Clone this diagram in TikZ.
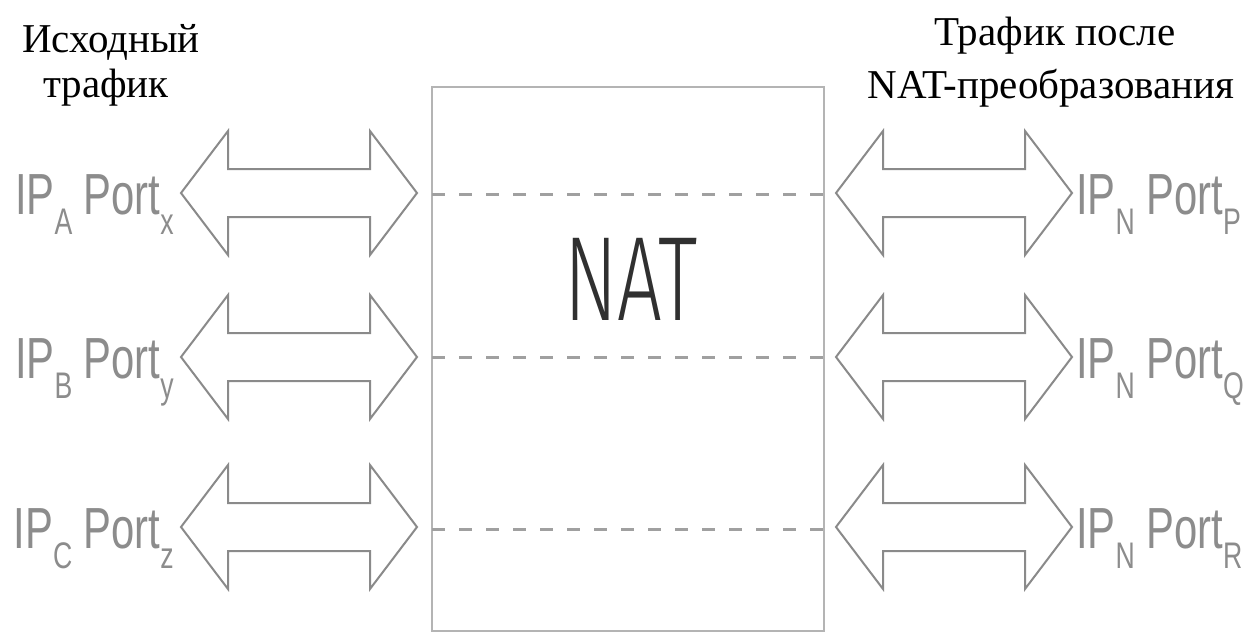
\documentclass[tikz,border=0pt]{standalone}
\usepackage{fontspec}
\usepackage{graphicx}
\setmainfont{Liberation Serif}
\newfontfamily\lblfont{Liberation Sans}
\newfontfamily\natfont{Fira Sans Light}

\definecolor{lblgray}{HTML}{8C8C8C}
\definecolor{arrowgray}{HTML}{8A8A8A}
\definecolor{boxgray}{HTML}{B4B4B4}
\definecolor{dashgray}{HTML}{A0A0A0}
\definecolor{natdark}{HTML}{303030}

% subscript of the address labels
\newcommand\lsub[1]{\raisebox{-20pt}{\fontsize{37}{37}\selectfont #1}}
% address label text, narrowed sans
\newcommand\addr[2]{\scalebox{0.72}[1]{\fontsize{58}{58}\selectfont IP\lsub{#1} Port\lsub{#2}}}
% hollow two-headed arrow: left tip x, centre y
\newcommand\twoway[2]{%
  \draw[arrowline] (#1,#2) -- ++(47,-62) -- ++(0,38) -- ++(142,0) -- ++(0,-38)
    -- ++(47,62) -- ++(-47,62) -- ++(0,-38) -- ++(-142,0) -- ++(0,38) -- cycle;}

\tikzset{
  heading/.style={inner sep=0pt, anchor=base, text=black, font=\fontsize{41}{45}\selectfont},
  addrlbl/.style={inner sep=0pt, anchor=base, text=lblgray, font=\lblfont},
  arrowline/.style={draw=arrowgray, line width=2pt, line join=miter},
  natbox/.style={draw=boxgray, line width=2pt, inner sep=0pt},
  flowline/.style={draw=dashgray, line width=3pt, dash pattern=on 13pt off 14pt},
}

\begin{document}
\begin{tikzpicture}[x=1pt,y=-1pt]
\useasboundingbox (0,0) rectangle (1248,633);
\fill[white] (0,0) rectangle (1248,633);

% the translator box
\node[natbox, minimum width=392pt, minimum height=544pt] (nat) at (628,359) {};
\node[inner sep=0pt, text=natdark] (natlabel) at (631,279)
  {\scalebox{0.66}[1]{\natfont\fontsize{120}{120}\selectfont NAT}};

% mapping lines through the box
\coordinate (m1w) at (432,194); \coordinate (m1e) at (824,194);
\coordinate (m2w) at (432,357); \coordinate (m2e) at (824,357);
\coordinate (m3w) at (432,529); \coordinate (m3e) at (824,529);
\draw[flowline] (m1w) -- (m1e);
\draw[flowline] (m2w) -- (m2e);
\draw[flowline] (m3w) -- (m3e);

% two-way traffic arrows
\twoway{181}{193}
\twoway{181}{357}
\twoway{181}{527}
\twoway{836}{193}
\twoway{836}{357}
\twoway{836}{527}

% headings
\node[heading] (h1a) at (111,52) {Исходный};
\node[heading] (h1b) at (106,97) {трафик};
\node[heading] (h2a) at (1055,45) {Трафик после};
\node[heading] (h2b) at (1051,98) {NAT-преобразования};

% source addresses
\node[addrlbl, anchor=base east] (sa) at (174,214) {\addr{A}{x}};
\node[addrlbl, anchor=base east] (sb) at (174,378) {\addr{B}{y}};
\node[addrlbl, anchor=base east] (sc) at (174,548) {\addr{C}{z}};

% translated addresses
\node[addrlbl, anchor=base west] (ta) at (1076,214) {\addr{N}{P}};
\node[addrlbl, anchor=base west] (tb) at (1076,378) {\addr{N}{Q}};
\node[addrlbl, anchor=base west] (tc) at (1076,548) {\addr{N}{R}};
\end{tikzpicture}
\end{document}
